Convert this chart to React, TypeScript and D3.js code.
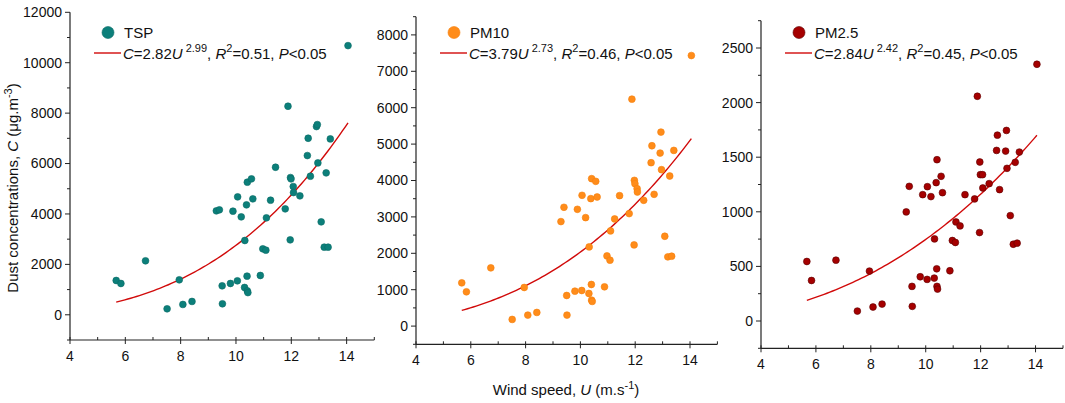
import * as d3 from "d3";

// Wind speed U (m/s), shared by all three panels
const windSpeed = [
  5.67, 5.84, 6.73, 7.51, 7.95, 8.08, 8.41, 9.29, 9.4, 9.5, 9.51, 9.8, 9.89,
  10.05, 10.06, 10.19, 10.32, 10.31, 10.38, 10.41, 10.56, 10.4, 10.41, 10.43,
  10.61, 10.88, 10.97, 11.08, 11.1, 11.25, 11.43, 11.78, 11.88, 11.96, 11.97,
  11.99, 12.07, 12.08, 12.31, 12.58, 12.61, 12.69, 12.91, 12.94, 12.96, 13.08,
  13.19, 13.33, 13.26, 13.41, 14.05,
];

const tspValues = [
  1361, 1242, 2141, 238, 1388, 410, 529, 4123, 4163, 1150, 436, 1242, 4110,
  1348, 4678, 3885, 2947, 1084, 4361, 5260, 5392, 1533, 950, 880, 4599, 1559,
  2617, 2564, 3846, 4546, 5854, 4202, 8273, 2973, 5445, 5392, 5088, 4850, 4718,
  6317, 7004, 5498, 7467, 7546, 6026, 3687, 2683, 2683, 5630, 6978, 10678,
];

const pm10Values = [
  1188, 942, 1600, 183, 1061, 302, 375, 2871, 3264, 841, 302, 960, 3209, 978,
  3593, 2980, 2176, 896, 3502, 4050, 3977, 1143, 713, 677, 3547, 1079, 1929,
  1810, 2615, 2944, 3584, 3090, 6235, 2231, 4004, 3913, 3776, 3684, 3456, 4489,
  4955, 3620, 4754, 5330, 4297, 2468, 1902, 1920, 4123, 4827, 7433,
];

const pm25Values = [
  545, 371, 557, 91, 457, 128, 155, 999, 1233, 317, 134, 405, 1157, 381, 1230,
  1139, 752, 393, 1267, 1477, 1325, 478, 317, 292, 1175, 460, 737, 719, 907,
  871, 1157, 1118, 2058, 810, 1456, 1340, 1340, 1218, 1258, 1562, 1702, 1203,
  1556, 1745, 1398, 965, 703, 713, 1453, 1547, 2351,
];

const seriesNames = ["TSP", "PM10", "PM2.5"];
// fitted power law C = a * U^b, from the legends
const fitA = [2.82, 3.79, 2.84];
const fitB = [2.99, 2.73, 2.42];
const fitR2 = ["0.51", "0.46", "0.45"];

const yDomains: [number, number][] = [
  [-1000, 12000],
  [-500, 8500],
  [-250, 2750],
];
const yMajorStep = [2000, 1000, 500];
const xDomain: [number, number] = [4, 15];

const FONT = "'Liberation Sans', Arial, Helvetica, sans-serif";

const panels = [
  { left: 70, right: 374.3, top: 12.3, bottom: 340, fill: "#0c7f7a", stroke: "#0a6b66" },
  { left: 416, right: 717.4, top: 16.7, bottom: 344.3, fill: "#ff8c1a", stroke: "#f5800c" },
  { left: 761, right: 1063, top: 20.7, bottom: 348.3, fill: "#a50000", stroke: "#5c0000" },
];

const allValues = [tspValues, pm10Values, pm25Values];

function Panel({ i }: { i: number }) {
  const p = panels[i];
  const x = d3.scaleLinear().domain(xDomain).range([p.left, p.right]);
  const y = d3.scaleLinear().domain(yDomains[i]).range([p.bottom, p.top]);
  const values = allValues[i];

  const [y0, y1] = yDomains[i];
  const step = yMajorStep[i];
  const yTicks = d3.range(y0, y1 + 1, step / 2);
  const xTicks = d3.range(4, 15.01, 1);

  const uMin = d3.min(windSpeed)!;
  const uMax = d3.max(windSpeed)!;
  const curveU = d3.range(uMin, uMax + 0.001, (uMax - uMin) / 80);
  const line = d3
    .line<number>()
    .x((u) => x(u))
    .y((u) => y(fitA[i] * Math.pow(u, fitB[i])));

  const lx = p.left; // legend anchor
  return (
    <g>
      {/* fit curve */}
      <path d={line(curveU)!} fill="none" stroke="#d10a0a" strokeWidth={1.4} />

      {/* points */}
      {windSpeed.map((u, k) => (
        <circle
          key={k}
          cx={x(u)}
          cy={y(values[k])}
          r={3.4}
          fill={p.fill}
          stroke={p.stroke}
          strokeWidth={0.6}
        />
      ))}

      {/* axes */}
      <line x1={p.left} x2={p.left} y1={p.top} y2={p.bottom} stroke="#222" strokeWidth={1.2} />
      <line x1={p.left} x2={p.right} y1={p.bottom} y2={p.bottom} stroke="#222" strokeWidth={1.2} />

      {yTicks.map((t) => {
        const major = (t - 0) % step === 0;
        return (
          <g key={"y" + t}>
            <line
              x1={p.left - (major ? 5 : 3)}
              x2={p.left}
              y1={y(t)}
              y2={y(t)}
              stroke="#222"
              strokeWidth={1}
            />
            {major && t >= 0 && (
              <text
                x={p.left - 8}
                y={y(t)}
                dy="0.35em"
                textAnchor="end"
                fontSize={14}
                fontFamily={FONT}
                fill="#111"
              >
                {t}
              </text>
            )}
          </g>
        );
      })}

      {xTicks.map((t) => {
        const major = t % 2 === 0;
        return (
          <g key={"x" + t}>
            <line
              x1={x(t)}
              x2={x(t)}
              y1={p.bottom - 3}
              y2={p.bottom + (major ? 4 : 0)}
              stroke="#222"
              strokeWidth={1}
            />
            {major && (
              <text
                x={x(t)}
                y={p.bottom + 21}
                textAnchor="middle"
                fontSize={14}
                fontFamily={FONT}
                fill="#111"
              >
                {t}
              </text>
            )}
          </g>
        );
      })}

      {/* legend */}
      <circle cx={lx + 38} cy={32.5} r={6} fill={p.fill} stroke={p.stroke} strokeWidth={0.6} />
      <text x={lx + 54} y={38} fontSize={15} fontFamily={FONT} fill="#111">
        {seriesNames[i]}
      </text>
      <line x1={lx + 24} x2={lx + 51} y1={53} y2={53} stroke="#d10a0a" strokeWidth={1.4} />
      <text x={lx + 53} y={58.5} fontSize={15} fontFamily={FONT} fill="#111">
        <tspan fontStyle="italic">C</tspan>={fitA[i].toFixed(2)}
        <tspan fontStyle="italic">U</tspan>
        <tspan dx={3} dy={-7} fontSize={11}>
          {fitB[i].toFixed(2)}
        </tspan>
        <tspan dy={7}>, </tspan>
        <tspan fontStyle="italic">R</tspan>
        <tspan dy={-7} fontSize={11}>
          2
        </tspan>
        <tspan dy={7}>={fitR2[i]}, </tspan>
        <tspan fontStyle="italic">P</tspan>&lt;0.05
      </text>
    </g>
  );
}

export default function App() {
  return (
    <div style={{ position: "absolute", left: 0, top: 0 }}>
      <svg width={1065} height={403} style={{ display: "block", background: "#fff" }}>
        <rect width={1065} height={403} fill="#fff" />
        {panels.map((_, i) => (
          <Panel key={i} i={i} />
        ))}

        {/* y-axis title */}
        <text
          transform="translate(18,188) rotate(-90)"
          textAnchor="middle"
          fontSize={15}
          fontFamily={FONT}
          fill="#111"
        >
          Dust concentrations, <tspan fontStyle="italic">C</tspan> (μg.m
          <tspan dy={-6} fontSize={11}>
            -3
          </tspan>
          <tspan dy={6}>)</tspan>
        </text>

        {/* x-axis title */}
        <text x={566} y={395} textAnchor="middle" fontSize={15} fontFamily={FONT} fill="#111">
          Wind speed, <tspan fontStyle="italic">U</tspan> (m.s
          <tspan dy={-6} fontSize={11}>
            -1
          </tspan>
          <tspan dy={6}>)</tspan>
        </text>
      </svg>
    </div>
  );
}
